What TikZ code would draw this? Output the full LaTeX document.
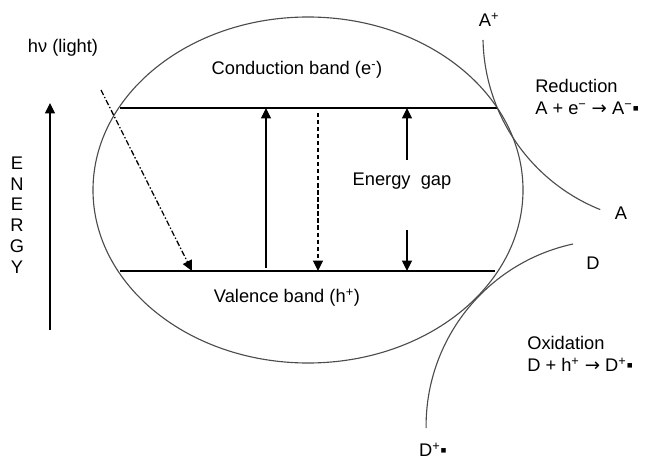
\documentclass[tikz,border=0pt]{standalone}
\usepackage{fontspec}
\setmainfont{Liberation Sans}
\newfontfamily\arrowfont{DejaVu Sans}
\usetikzlibrary{arrows.meta}

\begin{document}
\begin{tikzpicture}[x=0.025cm,y=0.025cm,
  >={Triangle[length=2.6mm,width=2.5mm]},font=\fontsize{13}{15.6}\selectfont,
  band/.style={line width=0.9pt},
  trans/.style={->,line width=0.9pt},
  rim/.style={line width=0.8pt,draw=black!70},
  lbl/.style={inner sep=0pt},
]
  \useasboundingbox (0,0) rectangle (648,461);

  % particle and bands
  \draw[rim] (308,271) ellipse[x radius=215,y radius=173];
  \coordinate (cbL) at (120,353);
  \coordinate (cbR) at (497,353);
  \coordinate (vbL) at (120,190);
  \coordinate (vbR) at (495,190);
  \draw[band] (cbL) -- (cbR);
  \draw[band] (vbL) -- (vbR);

  \node[lbl] (cb) at (297,391) {Conduction band (e\textsuperscript{-})};
  \node[lbl] (vb) at (287,163) {Valence band (h\textsuperscript{+})};
  \node[lbl] (gap) at (402,280) {Energy\ \ gap};

  % energy axis
  \node[lbl,align=center,font=\fontsize{13}{14.8}\selectfont] (energy) at (17,246)
    {E\\N\\E\\R\\G\\Y};
  \coordinate (axis0) at (50,131);
  \coordinate (axis1) at (50,358);
  \draw[trans] (axis0) -- (axis1);

  % light
  \node[lbl] (light) at (63,413) {hν (light)};
  \coordinate (hv0) at (101,371);
  \coordinate (hv1) at (192,190);
  \draw[trans,dash pattern=on 4pt off 1.5pt on 1pt off 1.5pt] (hv0) -- (hv1);

  % transitions
  \coordinate (up0) at (266,193);
  \coordinate (up1) at (266,353);
  \draw[trans] (up0) -- (up1);
  \coordinate (dn0) at (318,348);
  \coordinate (dn1) at (318,190);
  \draw[trans,dash pattern=on 3pt off 2pt] (dn0) -- (dn1);
  \coordinate (gapT) at (407,301);
  \coordinate (gapB) at (407,231);
  \draw[trans] (gapT) -- (cbL -| gapT);
  \draw[trans] (gapB) -- (vbL -| gapB);

  % acceptor side
  \node[lbl] (Aplus) at (489,441) {A\textsuperscript{+}};
  \node[lbl] (A) at (621,248) {A};
  \node[lbl,anchor=west,align=left] (red) at (535,364)
    {Reduction\\A + e\textsuperscript{−} {\arrowfont →} A\textsuperscript{−}▪};
  \coordinate (acc) at (483,421);
  \draw[rim] (acc) arc[start angle=181.2,end angle=248.1,radius=187];

  % donor side
  \node[lbl] (D) at (593,198) {D};
  \node[lbl] (Dplus) at (433,11) {D\textsuperscript{+}▪};
  \node[lbl,anchor=west,align=left] (ox) at (527,107)
    {Oxidation\\D + h\textsuperscript{+} {\arrowfont →} D\textsuperscript{+}▪};
  \coordinate (don) at (573,217);
  \draw[rim] (don) arc[start angle=102.2,end angle=180.6,radius=186.3];
\end{tikzpicture}
\end{document}
